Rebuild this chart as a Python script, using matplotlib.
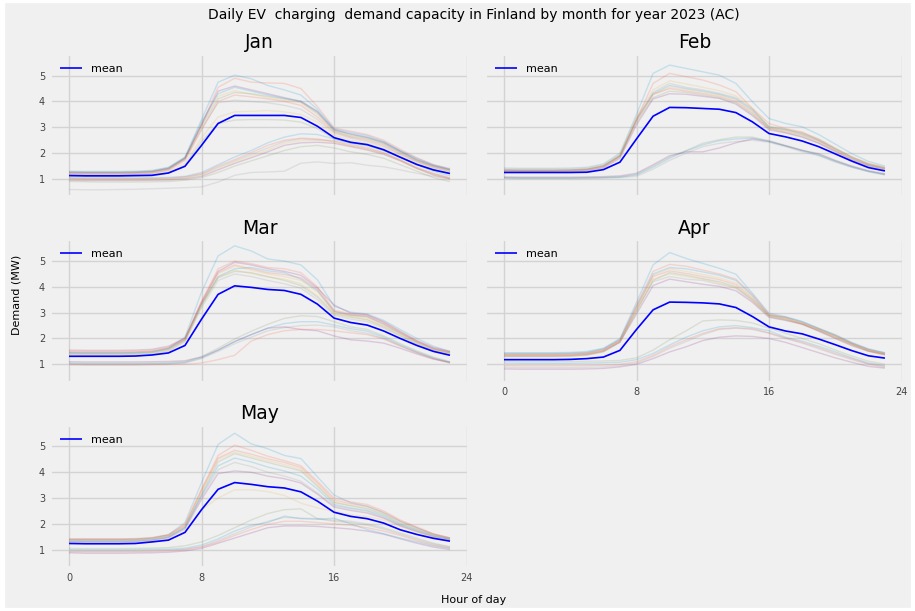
import numpy as np
import matplotlib
matplotlib.use('Agg')
import matplotlib.pyplot as plt

hours = list(range(24))
months = ['Jan', 'Feb', 'Mar', 'Apr', 'May']

# daily demand profiles (MW) per hour
jan_days = [
    [1.30,1.29,1.29,1.29,1.30,1.33,1.45,1.85,3.30,4.75,5.02,4.88,4.62,4.45,4.25,3.70,2.95,2.80,2.68,2.45,2.10,1.80,1.55,1.40],
    [1.25,1.24,1.24,1.24,1.25,1.28,1.40,1.80,3.10,4.55,4.90,4.75,4.72,4.70,4.50,3.80,2.98,2.85,2.72,2.50,2.15,1.82,1.55,1.38],
    [1.28,1.27,1.27,1.27,1.28,1.30,1.42,1.82,3.15,4.20,4.42,4.28,4.15,4.05,3.95,3.50,2.88,2.70,2.58,2.38,2.05,1.72,1.50,1.35],
    [1.22,1.21,1.21,1.21,1.22,1.25,1.38,1.78,3.05,4.10,4.35,4.30,4.20,4.10,3.98,3.55,2.85,2.65,2.55,2.35,2.02,1.70,1.48,1.33],
    [1.20,1.19,1.19,1.19,1.20,1.23,1.35,1.75,2.95,3.95,4.05,4.00,3.95,3.85,3.70,3.30,2.78,2.58,2.45,2.25,1.95,1.65,1.42,1.28],
    [1.25,1.24,1.24,1.24,1.25,1.28,1.40,1.80,3.10,4.40,4.60,4.45,4.30,4.15,4.00,3.60,2.90,2.75,2.62,2.42,2.08,1.75,1.52,1.36],
    [1.27,1.26,1.26,1.26,1.27,1.30,1.43,1.83,3.20,4.30,4.55,4.40,4.25,4.12,4.02,3.62,2.92,2.72,2.60,2.40,2.06,1.74,1.50,1.36],
    [1.18,1.17,1.17,1.17,1.18,1.21,1.33,1.72,2.90,4.00,4.25,4.18,4.10,4.00,3.85,3.40,2.82,2.62,2.50,2.30,1.98,1.68,1.45,1.30],
    [1.15,1.14,1.14,1.14,1.15,1.18,1.28,1.60,2.60,3.40,3.60,3.62,3.65,3.60,3.50,3.20,2.70,2.50,2.38,2.18,1.90,1.60,1.38,1.25],
    [1.10,1.09,1.09,1.09,1.10,1.12,1.22,1.52,2.45,3.15,3.28,3.30,3.30,3.28,3.20,2.95,2.55,2.40,2.30,2.10,1.85,1.55,1.35,1.20],
    [1.00,0.99,0.99,0.99,0.99,1.00,1.00,1.05,1.18,1.45,1.70,1.95,2.20,2.45,2.55,2.52,2.48,2.35,2.22,2.02,1.75,1.45,1.22,1.05],
    [0.95,0.94,0.94,0.94,0.94,0.95,0.96,1.00,1.10,1.35,1.60,1.82,2.05,2.30,2.40,2.42,2.38,2.25,2.12,1.95,1.70,1.40,1.15,1.00],
    [1.05,1.04,1.04,1.04,1.04,1.05,1.06,1.10,1.25,1.55,1.85,2.10,2.40,2.62,2.75,2.72,2.55,2.40,2.30,2.10,1.85,1.55,1.30,1.12],
    [1.02,1.01,1.01,1.01,1.01,1.02,1.03,1.08,1.20,1.50,1.75,2.02,2.30,2.50,2.58,2.55,2.45,2.30,2.18,2.00,1.72,1.42,1.20,1.03],
    [0.98,0.97,0.97,0.97,0.97,0.98,0.99,1.03,1.15,1.40,1.65,1.88,2.12,2.38,2.48,2.50,2.42,2.28,2.15,1.98,1.72,1.42,1.18,1.02],
    [0.90,0.89,0.88,0.88,0.88,0.89,0.90,0.95,1.05,1.25,1.50,1.70,1.90,2.10,2.25,2.30,2.20,2.05,1.95,1.80,1.55,1.30,1.05,0.90],
    [0.59,0.58,0.58,0.59,0.60,0.62,0.64,0.66,0.69,0.88,1.14,1.25,1.27,1.30,1.61,1.66,1.60,1.63,1.53,1.47,1.35,1.22,1.10,1.00],
]
jan_mean = [1.13,1.12,1.12,1.12,1.13,1.14,1.23,1.49,2.30,3.15,3.46,3.46,3.46,3.46,3.38,3.04,2.60,2.42,2.33,2.13,1.84,1.56,1.35,1.21]

feb_days = [
    [1.42,1.41,1.41,1.41,1.42,1.45,1.58,2.00,3.50,5.09,5.41,5.28,5.15,5.02,4.70,3.99,3.34,3.15,3.02,2.72,2.35,1.98,1.68,1.50],
    [1.35,1.34,1.34,1.34,1.35,1.38,1.50,1.90,3.30,4.70,5.09,4.96,4.83,4.64,4.38,3.73,3.15,2.95,2.82,2.50,2.18,1.85,1.60,1.45],
    [1.32,1.31,1.31,1.31,1.32,1.35,1.48,1.88,3.25,4.25,4.55,4.45,4.35,4.25,4.05,3.60,2.98,2.88,2.72,2.48,2.12,1.80,1.55,1.40],
    [1.30,1.29,1.29,1.29,1.30,1.33,1.45,1.85,3.20,4.15,4.40,4.35,4.25,4.15,3.95,3.50,2.95,2.80,2.65,2.40,2.08,1.76,1.52,1.38],
    [1.36,1.35,1.35,1.35,1.36,1.39,1.52,1.92,3.35,4.35,4.70,4.55,4.45,4.32,4.15,3.70,3.00,2.90,2.78,2.55,2.18,1.85,1.58,1.42],
    [1.28,1.27,1.27,1.27,1.28,1.31,1.42,1.80,3.10,4.10,4.30,4.28,4.20,4.12,3.90,3.45,2.90,2.78,2.62,2.38,2.05,1.72,1.50,1.35],
    [1.34,1.33,1.33,1.33,1.34,1.37,1.50,1.90,3.30,4.30,4.62,4.50,4.40,4.28,4.10,3.65,3.02,2.92,2.75,2.50,2.15,1.82,1.56,1.42],
    [1.33,1.32,1.32,1.32,1.33,1.36,1.48,1.88,3.28,4.28,4.50,4.40,4.30,4.20,4.00,3.55,2.96,2.84,2.70,2.45,2.10,1.78,1.54,1.40],
    [1.38,1.37,1.37,1.37,1.38,1.41,1.54,1.95,3.40,4.45,4.80,4.68,4.55,4.42,4.22,3.72,3.05,2.92,2.80,2.55,2.20,1.86,1.60,1.44],
    [1.05,1.04,1.04,1.04,1.04,1.05,1.06,1.08,1.18,1.50,1.85,2.10,2.38,2.52,2.62,2.62,2.48,2.30,2.12,1.95,1.70,1.48,1.30,1.18],
    [1.02,1.01,1.01,1.01,1.01,1.02,1.03,1.05,1.10,1.38,1.72,2.00,2.25,2.38,2.45,2.50,2.42,2.25,2.05,1.90,1.65,1.45,1.28,1.15],
    [1.08,1.07,1.07,1.07,1.07,1.08,1.09,1.12,1.22,1.55,1.90,2.05,2.05,2.20,2.40,2.55,2.45,2.28,2.10,1.98,1.72,1.50,1.32,1.20],
    [1.04,1.03,1.03,1.03,1.03,1.04,1.05,1.07,1.15,1.45,1.80,2.08,2.32,2.48,2.55,2.58,2.46,2.28,2.10,1.92,1.68,1.46,1.29,1.17],
]
feb_mean = [1.25,1.25,1.25,1.25,1.25,1.26,1.36,1.65,2.55,3.43,3.77,3.76,3.73,3.70,3.57,3.21,2.76,2.63,2.47,2.25,1.97,1.69,1.44,1.31]

mar_days = [
    [1.45,1.44,1.44,1.44,1.45,1.48,1.62,2.05,3.80,5.20,5.59,5.39,5.08,5.00,4.85,4.27,3.25,3.02,2.95,2.70,2.35,2.00,1.70,1.50],
    [1.50,1.49,1.49,1.49,1.50,1.53,1.65,2.00,3.45,4.70,5.00,4.90,4.75,4.70,4.55,4.00,3.10,2.95,2.90,2.62,2.25,1.90,1.62,1.48],
    [1.40,1.39,1.39,1.39,1.40,1.43,1.55,1.92,3.30,4.50,4.80,4.65,4.50,4.40,4.25,3.80,3.00,2.88,2.80,2.52,2.18,1.85,1.58,1.45],
    [1.45,1.44,1.44,1.44,1.45,1.48,1.60,1.96,3.35,4.35,4.60,4.55,4.40,4.25,4.05,3.60,2.95,2.82,2.72,2.45,2.12,1.80,1.55,1.42],
    [1.35,1.34,1.34,1.34,1.35,1.38,1.50,1.88,3.20,4.25,4.50,4.40,4.25,4.12,3.95,3.50,2.90,2.75,2.65,2.40,2.08,1.76,1.52,1.38],
    [1.55,1.54,1.54,1.54,1.55,1.58,1.70,2.02,3.40,4.60,4.95,4.85,4.70,4.60,4.45,3.95,3.30,2.98,2.92,2.65,2.28,1.92,1.65,1.50],
    [1.42,1.41,1.41,1.41,1.42,1.45,1.58,1.95,3.30,4.40,4.70,4.75,4.62,4.55,4.30,3.85,3.05,2.90,2.85,2.55,2.20,1.86,1.60,1.45],
    [1.48,1.47,1.47,1.47,1.48,1.51,1.63,1.98,3.38,4.55,4.85,4.70,4.55,4.48,4.35,3.90,3.05,2.92,2.85,2.58,2.22,1.88,1.60,1.46],
    [1.38,1.37,1.37,1.37,1.38,1.41,1.53,1.90,3.25,4.38,4.65,4.52,4.38,4.30,4.12,3.65,2.98,2.85,2.75,2.48,2.15,1.82,1.56,1.42],
    [1.05,1.04,1.04,1.04,1.04,1.05,1.06,1.10,1.30,1.62,1.98,2.28,2.55,2.78,2.88,2.85,2.65,2.45,2.35,2.10,1.80,1.52,1.28,1.10],
    [1.00,0.99,0.99,0.99,0.99,1.00,1.01,1.05,1.22,1.50,1.80,2.05,2.30,2.42,2.50,2.52,2.45,2.30,2.20,2.00,1.72,1.45,1.22,1.05],
    [1.10,1.09,1.09,1.09,1.09,1.10,1.11,1.14,1.28,1.55,1.88,2.15,2.40,2.45,2.35,2.30,2.10,1.95,1.90,1.82,1.62,1.40,1.20,1.08],
    [1.02,1.01,1.01,1.01,1.01,1.02,1.03,1.07,1.25,1.55,1.88,2.15,2.40,2.58,2.65,2.65,2.52,2.38,2.28,2.05,1.75,1.48,1.25,1.08],
    [0.98,0.97,0.97,0.97,0.97,0.98,0.99,1.00,1.05,1.18,1.35,1.90,2.15,2.30,2.35,2.35,2.30,2.22,2.15,1.98,1.70,1.45,1.22,1.05],
]
mar_mean = [1.31,1.31,1.31,1.31,1.32,1.36,1.44,1.73,2.75,3.71,4.04,3.98,3.90,3.86,3.71,3.33,2.79,2.62,2.52,2.29,2.00,1.73,1.50,1.35]

apr_days = [
    [1.45,1.45,1.45,1.45,1.46,1.50,1.62,2.00,3.40,4.85,5.33,5.10,4.91,4.72,4.49,3.75,2.98,2.85,2.66,2.40,2.15,1.85,1.60,1.45],
    [1.40,1.40,1.40,1.40,1.41,1.45,1.58,1.95,3.30,4.60,4.87,4.80,4.65,4.50,4.30,3.70,2.95,2.82,2.62,2.38,2.12,1.82,1.58,1.42],
    [1.35,1.35,1.35,1.35,1.36,1.40,1.52,1.88,3.15,4.45,4.70,4.60,4.48,4.35,4.15,3.60,2.92,2.80,2.60,2.35,2.10,1.80,1.56,1.40],
    [1.30,1.30,1.30,1.30,1.31,1.35,1.48,1.85,3.05,4.25,4.55,4.45,4.32,4.20,4.00,3.50,2.88,2.75,2.55,2.32,2.05,1.78,1.52,1.38],
    [1.38,1.38,1.38,1.38,1.39,1.42,1.55,1.92,3.10,4.20,4.40,4.30,4.25,4.10,3.95,3.45,2.85,2.72,2.58,2.30,2.02,1.75,1.52,1.40],
    [1.32,1.32,1.32,1.32,1.33,1.37,1.50,1.86,2.95,4.05,4.30,4.20,4.10,4.02,3.85,3.40,2.82,2.70,2.55,2.28,2.00,1.72,1.50,1.36],
    [1.42,1.42,1.42,1.42,1.43,1.46,1.60,1.96,3.25,4.50,4.75,4.70,4.58,4.45,4.25,3.65,2.90,2.82,2.65,2.38,2.12,1.82,1.58,1.44],
    [1.36,1.36,1.36,1.36,1.37,1.41,1.54,1.90,3.20,4.40,4.62,4.52,4.40,4.28,4.08,3.55,2.90,2.78,2.58,2.34,2.08,1.79,1.54,1.39],
    [1.34,1.34,1.34,1.34,1.35,1.39,1.51,1.87,3.08,4.30,4.50,4.40,4.30,4.15,3.98,3.48,2.86,2.74,2.56,2.30,2.04,1.76,1.52,1.38],
    [1.12,1.11,1.11,1.11,1.11,1.12,1.13,1.15,1.25,1.55,1.95,2.30,2.68,2.72,2.70,2.60,2.40,2.20,2.00,1.80,1.55,1.32,1.12,1.00],
    [0.88,0.87,0.87,0.87,0.87,0.88,0.90,0.95,1.05,1.30,1.62,1.88,2.15,2.35,2.40,2.35,2.20,2.00,1.82,1.60,1.38,1.18,1.00,0.88],
    [0.82,0.81,0.81,0.81,0.81,0.82,0.84,0.90,1.00,1.22,1.48,1.68,1.92,2.05,2.10,2.08,2.00,1.85,1.65,1.45,1.25,1.08,0.92,0.85],
    [1.05,1.04,1.04,1.04,1.04,1.05,1.06,1.08,1.18,1.42,1.75,2.05,2.30,2.45,2.50,2.42,2.30,2.05,1.90,1.70,1.48,1.25,1.05,0.95],
    [0.95,0.94,0.94,0.94,0.94,0.95,0.97,1.00,1.10,1.35,1.68,1.95,2.20,2.38,2.42,2.38,2.22,2.02,1.85,1.65,1.42,1.22,1.02,0.92],
]
apr_mean = [1.18,1.18,1.18,1.18,1.19,1.22,1.28,1.54,2.35,3.11,3.41,3.40,3.38,3.34,3.20,2.85,2.45,2.29,2.18,1.98,1.76,1.53,1.33,1.24]

may_days = [
    [1.40,1.40,1.40,1.40,1.41,1.45,1.58,2.05,3.60,5.08,5.51,5.10,4.91,4.65,4.53,3.82,3.12,2.82,2.68,2.42,2.10,1.85,1.60,1.45],
    [1.42,1.42,1.42,1.42,1.43,1.47,1.58,1.98,3.35,4.65,5.05,4.85,4.62,4.45,4.25,3.65,3.00,2.85,2.75,2.50,2.15,1.88,1.62,1.46],
    [1.38,1.38,1.38,1.38,1.39,1.43,1.55,1.92,3.25,4.50,4.78,4.62,4.45,4.30,4.10,3.50,2.85,2.72,2.62,2.38,2.05,1.80,1.58,1.44],
    [1.36,1.36,1.36,1.36,1.37,1.41,1.52,1.88,3.15,4.40,4.72,4.55,4.38,4.22,4.05,3.45,2.82,2.70,2.58,2.35,2.02,1.78,1.56,1.42],
    [1.32,1.32,1.32,1.32,1.33,1.37,1.48,1.85,3.05,4.10,4.38,4.22,4.00,3.85,3.65,3.20,2.70,2.58,2.48,2.25,1.95,1.72,1.52,1.40],
    [1.30,1.30,1.30,1.30,1.31,1.35,1.46,1.80,2.95,3.95,4.05,4.00,3.85,3.75,3.58,3.15,2.65,2.52,2.42,2.22,1.92,1.70,1.50,1.38],
    [1.34,1.34,1.34,1.34,1.35,1.39,1.50,1.86,3.10,4.25,4.55,4.40,4.20,4.05,3.85,3.35,2.75,2.62,2.52,2.30,1.98,1.75,1.54,1.41],
    [1.40,1.40,1.40,1.40,1.41,1.45,1.56,1.95,3.30,4.55,4.85,4.70,4.52,4.38,4.18,3.58,2.92,2.78,2.68,2.45,2.10,1.84,1.60,1.45],
    [1.25,1.25,1.25,1.25,1.26,1.30,1.40,1.68,2.55,3.00,3.32,3.32,3.25,3.10,2.80,2.62,2.48,2.35,2.28,2.15,1.90,1.68,1.48,1.35],
    [1.05,1.04,1.04,1.04,1.05,1.06,1.08,1.15,1.30,1.55,1.85,2.15,2.40,2.55,2.58,2.20,2.10,2.05,1.95,1.80,1.60,1.40,1.22,1.10],
    [0.95,0.94,0.94,0.94,0.95,0.96,0.98,1.02,1.12,1.35,1.62,1.88,2.10,2.25,2.22,2.20,2.15,2.10,2.00,1.85,1.65,1.45,1.25,1.12],
    [0.88,0.86,0.86,0.86,0.87,0.88,0.90,0.95,1.05,1.25,1.45,1.65,1.85,1.92,1.92,1.90,1.85,1.80,1.72,1.60,1.42,1.25,1.10,1.00],
    [1.00,0.99,0.99,0.99,1.00,1.01,1.02,1.06,1.18,1.42,1.72,1.95,2.05,2.30,2.20,2.18,2.22,2.00,1.78,1.62,1.45,1.30,1.15,1.05],
    [0.92,0.91,0.91,0.91,0.92,0.93,0.95,1.00,1.10,1.30,1.55,1.78,1.98,2.10,2.10,2.05,2.00,1.95,1.85,1.72,1.55,1.35,1.18,1.06],
]
may_mean = [1.24,1.23,1.23,1.23,1.24,1.30,1.37,1.67,2.55,3.34,3.60,3.53,3.44,3.39,3.24,2.88,2.45,2.29,2.20,2.03,1.77,1.59,1.44,1.33]

all_days = [jan_days, feb_days, mar_days, apr_days, may_days]
all_means = [jan_mean, feb_mean, mar_mean, apr_mean, may_mean]

plt.style.use('fivethirtyeight')
plt.rcParams['grid.color'] = '#d3d3d3'
plt.rcParams['grid.linewidth'] = 1.0

fig, axes = plt.subplots(3, 2, figsize=(9.15, 6.11), dpi=100, sharex=True, sharey=True)
fig.patch.set_facecolor('white')
# grey sheet with a thin white rim like the original export
fig.patches.append(plt.Rectangle((5/915, 4/611), 1 - 10/915, 1 - 7/611,
                                 transform=fig.transFigure, color='#f0f0f0', zorder=-10))
fig.subplots_adjust(left=50/915, right=904/915, top=1 - 54/611, bottom=1 - 568/611,
                    wspace=0.038, hspace=0.294)

for ax, name, days, mean in zip(axes.flat, months, all_days, all_means):
    for d in days:
        ax.plot(hours, d, lw=1, alpha=0.18)
    ax.plot(hours, mean, color='b', lw=1.2, label='mean')
    ax.set_title(name, fontsize=13.5, pad=4)
    ax.legend(loc='upper left', frameon=False, fontsize=8)
    ax.tick_params(labelsize=7, colors='#444444')
    ax.set_xticks([0, 8, 16, 24])
    ax.set_yticks([1, 2, 3, 4, 5])
    ax.set_xlim(-1.15, 24.15)
    ax.set_ylim(0.29, 5.84)

axes[2, 1].remove()
axes[1, 1].xaxis.set_tick_params(labelbottom=True)

fig.text(474/915, 1 - 15/611, 'Daily EV  charging  demand capacity in Finland by month for year 2023 (AC)',
         ha='center', va='center', fontsize=10)
fig.text(474/915, 1 - 600/611, 'Hour of day', ha='center', va='center', fontsize=8)
fig.text(17/915, 1 - 295/611, 'Demand (MW)', ha='center', va='center', rotation=90, fontsize=8)

fig.savefig('out.png', dpi=100, facecolor=fig.get_facecolor())
